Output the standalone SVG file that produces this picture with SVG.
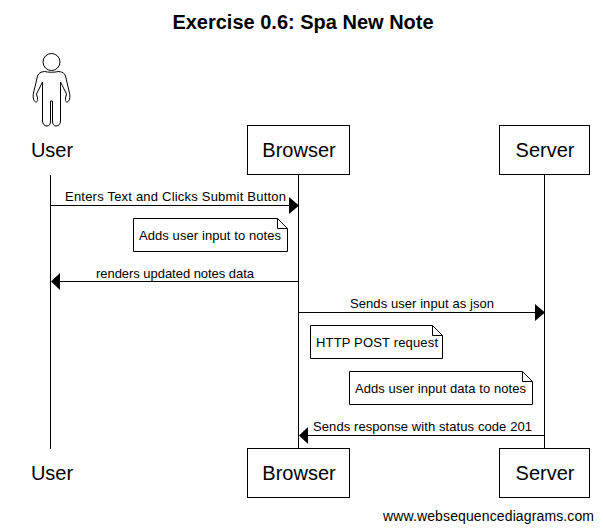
<svg xmlns="http://www.w3.org/2000/svg" width="603" height="531" viewBox="0 0 603 531">
<style>
text{font-family:"Liberation Sans",Arial,sans-serif;fill:#000}
.t{font-size:13px}
.h{font-size:20px;text-anchor:middle}
.b{fill:#fff;stroke:#000;stroke-width:1}
.l{stroke:#000;stroke-width:1;fill:none}
.n{fill:#fff;stroke:#000;stroke-width:1}
</style>
<defs>
<g id="actor"><circle cx="0" cy="-86" r="8.500" fill="#fff" stroke="#000" stroke-width="1"/>
<path d="M-7-76.500 C-11-76-13-75-14-72 L-18-55 C-18.500-53-18.500-51-18-49 C-17.500-47-16-45.500-15-46 C-14-46.500-14-48-14-50 L-15-54 L-9-66 L-9-27 C-9-24-7-22-4.500-22 C-2-22-1-24-1-27 L-1-47 L1-47 L1-27 C1-24 2-22 4.500-22 C7-22 9-24 9-27 L9-66 L15-54 L14-50 C14-48 14-46.500 15-46 C16-45.500 17.500-47 18-49 C18.500-51 18.500-53 18-55 L14-72 C13-75 11-76 7-76.500 C3-75.500-3-75.500-7-76.500Z" fill="#fff" stroke="#000" stroke-width="1"/></g>
</defs>
<text x="303" y="29" text-anchor="middle" font-size="20" font-weight="bold">Exercise 0.6: Spa New Note</text>
<g id="connectors">
<path class="l" d="M50.500 175V449M298.500 175V449M544.500 175V449"/>
<path class="l" d="M51 205.500H290"/><path d="M299 205.500L289 197V214Z"/>
<text class="t" x="65" y="201" textLength="221">Enters Text and Clicks Submit Button</text>
<path class="l" d="M60 281.500H298"/><path d="M51 281.500L60 273V290Z"/>
<text class="t" x="96" y="278" textLength="158">renders updated notes data</text>
<path class="l" d="M299 312.500H536"/><path d="M545 312.500L535 304V321Z"/>
<text class="t" x="350" y="308" textLength="144">Sends user input as json</text>
<path class="l" d="M308 435.500H544"/><path d="M299 435.500L308 427V444Z"/>
<text class="t" x="313" y="431" textLength="219">Sends response with status code 201</text>
</g>
<g id="user-top"><use href="#actor" x="51.500" y="148"/><text class="h" x="52" y="157">User</text></g>
<g id="browser-top"><rect class="b" x="247.500" y="125.500" width="102" height="49"/><text class="h" x="299" y="157">Browser</text></g>
<g id="server-top"><rect class="b" x="499.500" y="125.500" width="90" height="49"/><text class="h" x="545" y="157">Server</text></g>
<g id="note-1"><path class="n" d="M133.500 218.500H277.500L287.500 228.500V251.500H133.500Z"/><path class="l" d="M277.500 218.500V228.500H287.500"/><text class="t" x="139" y="240" textLength="142">Adds user input to notes</text></g>
<g id="note-2"><path class="n" d="M310.500 325.500H432.500L442.500 335.500V358.500H310.500Z"/><path class="l" d="M432.500 325.500V335.500H442.500"/><text class="t" x="316" y="347" textLength="122">HTTP POST request</text></g>
<g id="note-3"><path class="n" d="M349.500 371.500H522.500L532.500 381.500V404.500H349.500Z"/><path class="l" d="M522.500 371.500V381.500H532.500"/><text class="t" x="355" y="393" textLength="171">Adds user input data to notes</text></g>
<g id="user-bottom"><text class="h" x="52" y="480">User</text></g>
<g id="browser-bottom"><rect class="b" x="247.500" y="448.500" width="102" height="49"/><text class="h" x="299" y="480">Browser</text></g>
<g id="server-bottom"><rect class="b" x="499.500" y="448.500" width="90" height="49"/><text class="h" x="545" y="480">Server</text></g>
<text x="383" y="521" font-size="14" textLength="211">www.websequencediagrams.com</text>
</svg>
